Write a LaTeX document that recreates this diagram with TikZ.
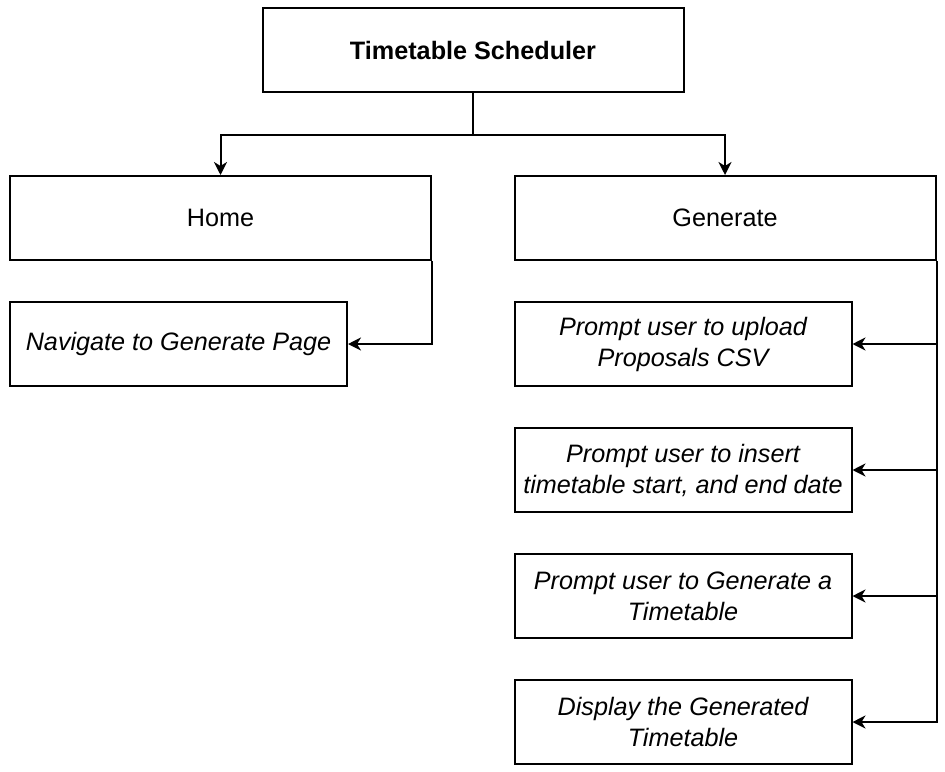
\documentclass[tikz,border=0pt]{standalone}
\usepackage{fontspec}
\setmainfont{Liberation Sans}
\usetikzlibrary{arrows.meta,positioning}

\begin{document}
\begin{tikzpicture}
          [x=1pt,y=1pt,line width=2pt,
            >={Stealth[length=13pt,width=13pt,inset=4pt]},
            every node/.style={rectangle,draw,align=center,inner sep=0pt,
              minimum height=84pt,font=\fontsize{25.2}{31}\selectfont},
            wide/.style={minimum width=421pt},
            task/.style={minimum width=337pt,font=\fontsize{25.2}{31}\selectfont\itshape}]
          \useasboundingbox (0,0) rectangle (945,-771);
          \node[wide,font=\fontsize{25.2}{31}\selectfont\bfseries] (n0) at (473,-50) {Timetable Scheduler};
          \node[wide] (home) at (220.5,-218) {Home};
          \node[wide] (gen) at (725,-218) {Generate};
          \node[task] (nav) at (178.5,-344) {Navigate to Generate Page};
          \node[task] (p1) at (683,-344) {Prompt user to upload\\Proposals CSV};
          \node[task,below=40pt of p1] (p2) {Prompt user to insert\\timetable start, and end date};
          \node[task,below=40pt of p2] (p3) {Prompt user to Generate a\\Timetable};
          \node[task,below=40pt of p3] (p4) {Display the Generated\\Timetable};
          \foreach \to in {home,gen}
          \draw[->] (n0.south) -- ++(0,-42) -| (\to.north);
          \draw[->] (home.south east) |- (nav.east);
          \foreach \to in {p1,p2,p3,p4}
          \draw[->] (gen.south east) |- (\to.east);
        \end{tikzpicture}
\end{document}
